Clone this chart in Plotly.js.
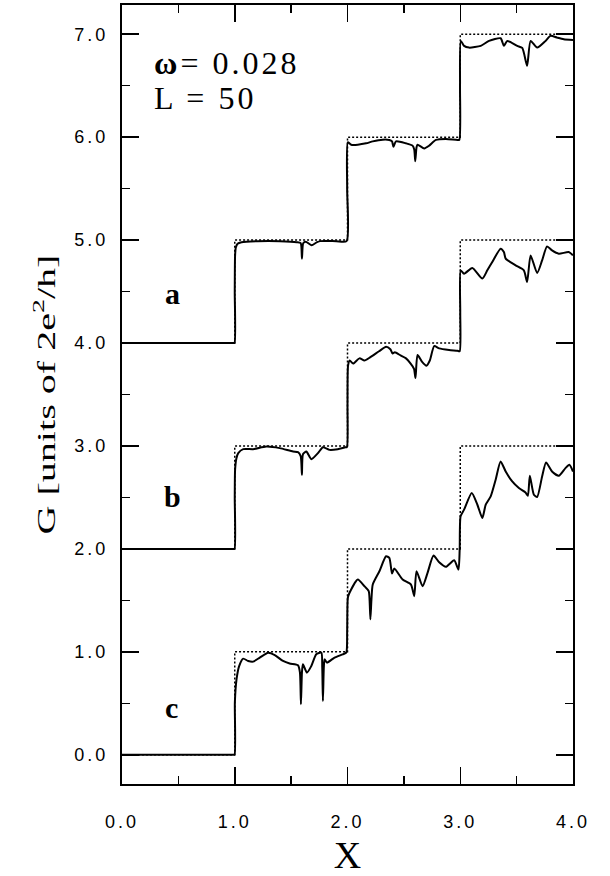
<!DOCTYPE html>
<html><head><meta charset="utf-8">
<script src="https://cdn.plot.ly/plotly-3.0.1.min.js"></script>
<style>
html,body{margin:0;padding:0;background:#fff}
#chart{width:610px;height:876px}
.xtick text,.ytick text{letter-spacing:3px}
.annotation-text{letter-spacing:3px}
</style></head><body><div id="chart"></div>
<script>
// ideal (dotted) staircases
var stepX = [0,1,1,2,2,3,3,4];
var stepA = [4,4,5,5,6,6,7,7];
var stepB = [2,2,3,3,4,4,5,5];
var stepC = [0,0,1,1,2,2,3,3];

// curve a
var xA = [0,0.3,0.6,0.85,0.95,0.985,0.998,1.0,1.003,1.01,1.025,1.06,1.2,1.4,1.55,1.585,1.596,1.607,1.63,1.68,1.73,1.76,1.9,1.992,
  1.997,2.003,2.033,2.091,2.165,2.224,2.312,2.371,2.395,2.407,2.43,2.519,2.577,2.592,2.601,2.612,2.621,2.681,2.725,2.784,2.872,2.975,2.992,
  2.998,3.005,3.034,3.078,3.182,3.255,3.358,3.387,3.417,3.505,3.55,3.593,3.624,3.682,3.756,3.80,3.859,3.918,4.0];
var yA = [4,4,4,4,4,4,4,4.5,4.85,4.93,4.965,4.98,4.99,4.99,4.98,4.97,4.82,4.97,4.985,4.95,4.98,4.99,4.99,4.99,
  5.5,5.95,5.927,5.927,5.94,5.959,5.976,5.973,5.959,5.908,5.959,5.94,5.918,5.88,5.766,5.9,5.927,5.891,5.918,5.973,5.983,5.973,5.975,
  6.5,6.935,6.887,6.87,6.887,6.935,6.961,6.887,6.935,6.887,6.867,6.693,6.935,6.87,6.935,6.984,6.967,6.952,6.945];

// curve b
var xB = [0,0.3,0.6,0.85,0.95,0.985,0.998,1.0,1.003,1.015,1.031,1.075,1.163,1.281,1.399,1.517,1.561,1.585,1.596,1.605,1.635,1.679,1.738,1.782,1.841,1.914,1.982,1.995,
  2.0,2.005,2.02,2.05,2.106,2.15,2.2,2.28,2.342,2.38,2.40,2.42,2.47,2.519,2.56,2.59,2.603,2.621,2.66,2.70,2.73,2.769,2.813,2.901,2.975,2.995,
  3.0,3.004,3.034,3.107,3.196,3.24,3.284,3.358,3.387,3.403,3.491,3.564,3.593,3.624,3.682,3.726,3.77,3.814,3.874,3.962,4.0];
var yB = [2,2,2,2,2,2,2,2.5,2.77,2.88,2.93,2.969,2.969,2.994,2.979,2.946,2.94,2.9,2.72,2.92,2.946,2.872,2.93,2.988,2.962,2.969,2.988,2.99,
  3.4,3.78,3.83,3.80,3.851,3.83,3.86,3.92,3.963,3.94,3.899,3.91,3.88,3.851,3.80,3.75,3.66,3.883,3.82,3.78,3.83,3.97,3.948,3.932,3.924,3.92,
  4.3,4.706,4.674,4.729,4.626,4.706,4.787,4.917,4.884,4.82,4.755,4.706,4.593,4.851,4.68,4.803,4.939,4.9,4.868,4.884,4.852];

// curve c
var xC = [0,0.3,0.6,0.85,0.95,0.985,0.998,1.001,1.016,1.039,1.075,1.119,1.163,1.222,1.296,1.355,1.428,1.487,1.561,1.578,1.587,1.596,1.605,1.64,1.679,1.723,1.768,1.776,1.782,1.79,1.797,1.817,1.885,1.958,1.989,
  1.997,2.003,2.018,2.091,2.15,2.188,2.196,2.203,2.212,2.224,2.283,2.342,2.371,2.395,2.415,2.489,2.563,2.592,2.612,2.666,2.71,2.763,2.813,2.872,2.946,2.984,
  2.995,3.003,3.034,3.102,3.152,3.196,3.226,3.27,3.314,3.358,3.403,3.461,3.52,3.579,3.6,3.617,3.653,3.682,3.726,3.761,3.814,3.874,3.933,3.968,4.0];
var yC = [0,0,0,0,0,0,0,0.508,0.734,0.862,0.934,0.911,0.905,0.944,0.992,0.969,0.911,0.886,0.869,0.80,0.491,0.80,0.879,0.798,0.862,0.976,0.992,0.85,0.523,0.85,0.927,0.895,0.944,0.976,0.992,
  1.2,1.525,1.574,1.703,1.638,1.589,1.5,1.316,1.5,1.654,1.783,1.928,1.913,1.761,1.809,1.703,1.654,1.541,1.783,1.638,1.767,1.935,1.87,1.826,1.89,1.799,
  2.0,2.316,2.381,2.543,2.429,2.3,2.429,2.51,2.672,2.849,2.752,2.655,2.591,2.548,2.516,2.71,2.526,2.504,2.703,2.839,2.752,2.71,2.785,2.817,2.752];

var curveLabels = ['a','b','c'];
var labelX = [0.46,0.46,0.45];
var labelY = [4.48,2.51,0.46];
var paramLines = ['<b>ω</b>= 0.028','L = 50'];
var paramY = [6.72,6.38];

var dotLine = {color:'#000', width:1.5, dash:'2px,2px'};
var solidLine = {color:'#000', width:2, shape:'spline', smoothing:0.6};
var traces = [
  {x:stepX, y:stepA, mode:'lines', line:dotLine, hoverinfo:'skip'},
  {x:stepX, y:stepB, mode:'lines', line:dotLine, hoverinfo:'skip'},
  {x:stepX, y:stepC, mode:'lines', line:dotLine, hoverinfo:'skip'},
  {x:xA, y:yA, mode:'lines', line:solidLine},
  {x:xB, y:yB, mode:'lines', line:solidLine},
  {x:xC, y:yC, mode:'lines', line:solidLine}
];

var annotations = [];
for (var i=0;i<curveLabels.length;i++){
  annotations.push({x:labelX[i], y:labelY[i], xref:'x', yref:'y', text:'<b>'+curveLabels[i]+'</b>', showarrow:false,
    font:{family:'Liberation Serif', size:30, color:'#000'}, xanchor:'center', yanchor:'middle'});
}
for (var j=0;j<paramLines.length;j++){
  annotations.push({x:0.27, y:paramY[j], xref:'x', yref:'y', text:paramLines[j], showarrow:false,
    font:{family:'Liberation Serif', size:32, color:'#000'}, xanchor:'left', yanchor:'middle'});
}

var axisCommon = {
  ticks:'inside', ticklen:17, tickwidth:1.5, tickcolor:'#000',
  showline:true, linewidth:2, linecolor:'#000', mirror:'allticks',
  showgrid:false, zeroline:false, tickformat:'.1f',
  tickfont:{family:'Liberation Sans', size:18, color:'#000'},
  minor:{ticks:'inside', ticklen:8, tickwidth:1.5, tickcolor:'#000', showgrid:false}
};

var layout = {
  width:610, height:876,
  margin:{l:122, r:37, t:5, b:92},
  paper_bgcolor:'#fff', plot_bgcolor:'#fff',
  showlegend:false,
  xaxis: Object.assign({}, axisCommon, {range:[0,4], tick0:0, dtick:1, ticklabelstandoff:20,
    minor:Object.assign({}, axisCommon.minor, {tick0:0, dtick:0.5}),
    title:{text:'X', font:{family:'Liberation Serif', size:38, color:'#000'}, standoff:12}}),
  yaxis: Object.assign({}, axisCommon, {range:[-0.284,7.284], tick0:0, dtick:1, ticklabelstandoff:8,
    minor:Object.assign({}, axisCommon.minor, {tick0:0, dtick:0.5}),
    title:{text:'G [units of 2e<sup>2</sup>/h]', font:{family:'Liberation Serif', size:25, color:'#000'}, standoff:12}}),
  annotations: annotations
};

Plotly.newPlot('chart', traces, layout, {staticPlot:true}).then(function(gd){
  var yt = gd.querySelector('.ytitle');
  if (yt) { yt.setAttribute('textLength','280'); yt.setAttribute('lengthAdjust','spacingAndGlyphs'); }
});
</script></body></html>
